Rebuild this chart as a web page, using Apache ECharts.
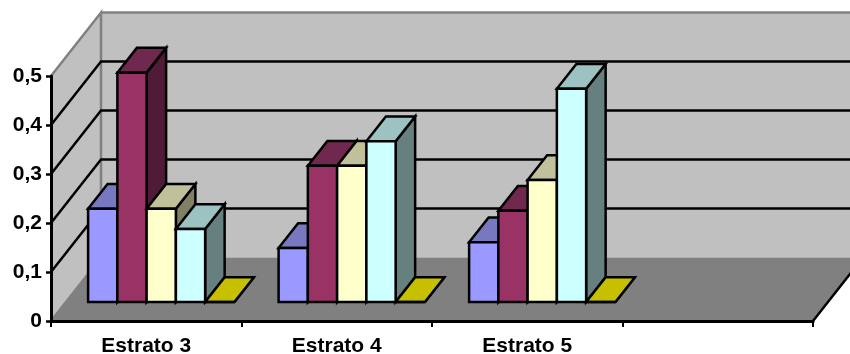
<!DOCTYPE html>
<html>
<head>
<meta charset="utf-8">
<style>html,body{margin:0;padding:0;background:#fff}#chart{width:850px;height:354px}</style>
<script src="https://cdn.jsdelivr.net/npm/echarts@6/dist/echarts.min.js"></script>
</head>
<body>
<div id="chart"></div>
<script>
// Values per stratum
const categories = ['Estrato 3', 'Estrato 4', 'Estrato 5', ''];
const seriesA = [0.19, 0.11, 0.122, null];
const seriesB = [0.468, 0.278, 0.186, null];
const seriesC = [0.19, 0.278, 0.249, null];
const seriesD = [0.149, 0.328, 0.435, null];
const seriesE = [0, 0, 0, null];
const yTicks = [0, 0.1, 0.2, 0.3, 0.4, 0.5];

// Face colours of each box: front, top, side
const faces = [
  ['#9999ff', '#7878c0', '#6060a0'],
  ['#993366', '#70284e', '#4f1b36'],
  ['#ffffcc', '#c0c09a', '#808066'],
  ['#ccffff', '#9cc2c2', '#668080'],
  ['#cccc00', '#c6c000', '#808000']
];

// Oblique projection of the depth axis
const DEPTH_X = 50, DEPTH_Y = -63.5;
const SLOTS = 5, GAP = 0.116;      // boxes per category, side gap as a fraction of the band
const NEAR = 0.3, BOX_DEPTH = 0.39; // box placement along the depth axis
const INK = 2.5;

const box = (slot, colors) => (params, api) => {
  const v = api.value(1);
  if (v === null || isNaN(v)) return;
  const band = api.size([1, 0])[0];
  const base = api.coord([api.value(0), 0]);
  const top = api.coord([api.value(0), v]);
  const w = band * (1 - 2 * GAP) / SLOTS;
  const x0 = base[0] - band / 2 + band * GAP + slot * w + DEPTH_X * NEAR;
  const x1 = x0 + w;
  const yB = base[1] + DEPTH_Y * NEAR;
  const yT = top[1] + DEPTH_Y * NEAR;
  const dx = DEPTH_X * BOX_DEPTH, dy = DEPTH_Y * BOX_DEPTH;
  const stroke = { stroke: '#000', lineWidth: INK, lineJoin: 'miter' };
  const poly = (points, fill) => ({
    type: 'polygon', shape: { points }, style: Object.assign({ fill }, stroke)
  });
  return {
    type: 'group',
    children: [
      poly([[x1, yB], [x1 + dx, yB + dy], [x1 + dx, yT + dy], [x1, yT]], colors[2]),
      poly([[x0, yT], [x1, yT], [x1 + dx, yT + dy], [x0 + dx, yT + dy]], colors[1]),
      poly([[x0, yB], [x1, yB], [x1, yT], [x0, yT]], colors[0])
    ]
  };
};

// Back wall, side wall, floor and their gridlines
const walls = (params, api) => {
  const p0 = api.coord([0, 0]);
  const band = api.size([1, 0])[0];
  const left = p0[0] - band / 2;
  const right = left + band * categories.length;
  const yAt = v => api.coord([0, v])[1];
  const yTop = yAt(yTicks[yTicks.length - 1]);
  const yBot = yAt(0);
  const edge = { stroke: '#808080', lineWidth: 2.5 };
  const children = [
    { type: 'polygon', shape: { points: [[left + DEPTH_X, yBot + DEPTH_Y], [right + DEPTH_X, yBot + DEPTH_Y], [right + DEPTH_X, yTop + DEPTH_Y], [left + DEPTH_X, yTop + DEPTH_Y]] }, style: { fill: '#c0c0c0' } },
    { type: 'polygon', shape: { points: [[left, yBot], [left + DEPTH_X, yBot + DEPTH_Y], [left + DEPTH_X, yTop + DEPTH_Y], [left, yTop]] }, style: { fill: '#c0c0c0' } },
    { type: 'polygon', shape: { points: [[left, yBot], [right, yBot], [right + DEPTH_X, yBot + DEPTH_Y], [left + DEPTH_X, yBot + DEPTH_Y]] }, style: { fill: '#808080' } },
    { type: 'polyline', shape: { points: [[left, yBot], [left + DEPTH_X, yBot + DEPTH_Y], [left + DEPTH_X, yTop + DEPTH_Y], [left, yTop]] }, style: Object.assign({ fill: 'none' }, edge) },
    { type: 'polyline', shape: { points: [[left + DEPTH_X, yTop + DEPTH_Y], [right + DEPTH_X, yTop + DEPTH_Y]] }, style: Object.assign({ fill: 'none' }, edge) },
    { type: 'polyline', shape: { points: [[right, yBot], [right + DEPTH_X, yBot + DEPTH_Y]] }, style: { fill: 'none', stroke: '#000', lineWidth: INK } }
  ];
  yTicks.slice(1, -1).forEach(t => {
    const y = yAt(t);
    children.push({ type: 'polyline', shape: { points: [[left, y], [left + DEPTH_X, y + DEPTH_Y], [right + DEPTH_X, y + DEPTH_Y]] }, style: { fill: 'none', stroke: '#000', lineWidth: INK } });
  });
  return { type: 'group', children };
};

const rows = arr => arr.map((v, i) => [i, v]);
const font = { fontFamily: '"Liberation Sans", Arial, sans-serif', fontWeight: 'bold', fontSize: 21, color: '#000' };

const chart = echarts.init(document.getElementById('chart'), null, { renderer: 'canvas' });
chart.setOption({
  animation: false,
  backgroundColor: '#fff',
  grid: { left: 51, right: 37, top: 76, bottom: 33, outerBoundsMode: 'none' },
  xAxis: {
    type: 'category', data: categories, z: 10,
    axisLine: { lineStyle: { color: '#000', width: 3 } },
    axisTick: { show: true, alignWithLabel: false, length: 6, lineStyle: { color: '#000', width: 2 } },
    axisLabel: Object.assign({ interval: 0, margin: 15 }, font)
  },
  yAxis: {
    type: 'value', min: 0, max: 0.5, interval: 0.1, z: 10,
    axisLine: { show: true, lineStyle: { color: '#000', width: 3 } },
    axisTick: { show: true, length: 5, lineStyle: { color: '#000', width: 2.5 } },
    splitLine: { show: false },
    axisLabel: Object.assign({ margin: 9, formatter: v => String(v).replace('.', ',') }, font)
  },
  series: [
    { type: 'custom', z: 1, renderItem: walls, data: [[0, 0]], encode: { x: 0, y: 1 } },
    { type: 'custom', z: 2, renderItem: box(0, faces[0]), data: rows(seriesA), encode: { x: 0, y: 1 } },
    { type: 'custom', z: 2, renderItem: box(1, faces[1]), data: rows(seriesB), encode: { x: 0, y: 1 } },
    { type: 'custom', z: 2, renderItem: box(2, faces[2]), data: rows(seriesC), encode: { x: 0, y: 1 } },
    { type: 'custom', z: 2, renderItem: box(3, faces[3]), data: rows(seriesD), encode: { x: 0, y: 1 } },
    { type: 'custom', z: 2, renderItem: box(4, faces[4]), data: rows(seriesE), encode: { x: 0, y: 1 } }
  ]
});
</script>
</body>
</html>
